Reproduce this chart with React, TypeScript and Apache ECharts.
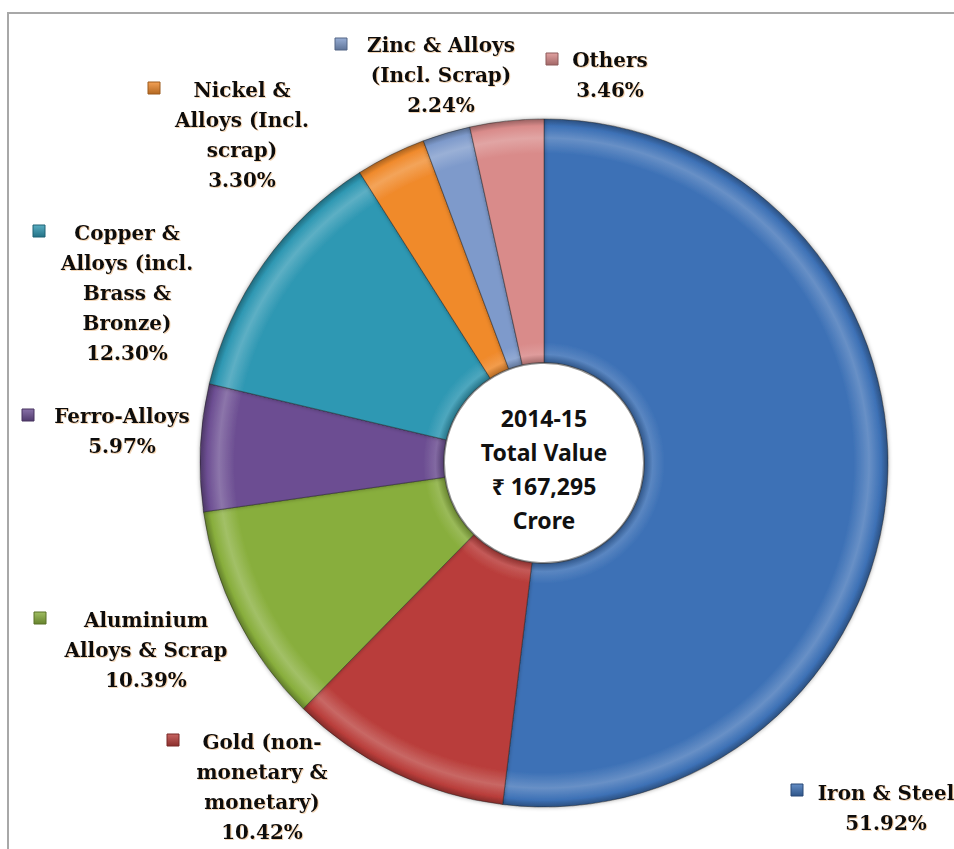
import React, { useEffect, useRef } from "react";
import * as echarts from "echarts";

const categories = [
  "Iron & Steel",
  "Gold (non-monetary & monetary)",
  "Aluminium Alloys & Scrap",
  "Ferro-Alloys",
  "Copper & Alloys (incl. Brass & Bronze)",
  "Nickel & Alloys (Incl. scrap)",
  "Zinc & Alloys (Incl. Scrap)",
  "Others",
];
const labelLines = [
  ["Iron & Steel"],
  ["Gold (non-", "monetary &", "monetary)"],
  ["Aluminium", "Alloys & Scrap"],
  ["Ferro-Alloys"],
  ["Copper &", "Alloys (incl.", "Brass &", "Bronze)"],
  ["Nickel &", "Alloys (Incl.", "scrap)"],
  ["Zinc & Alloys", "(Incl. Scrap)"],
  ["Others"],
];
const shares = [51.92, 10.42, 10.39, 5.97, 12.3, 3.3, 2.24, 3.46];
const centerLines = ["2014-15", "Total Value", "\u20B9 167,295", "Crore"];

// layout (not data)
const colors = ["#3d71b6", "#b93d3a", "#88ae3c", "#6c4e92", "#2f98b3", "#f08a2c", "#7e9acb", "#d98b8a"];
const labelPos = [
  [886, 793],
  [262, 742],
  [146, 620],
  [122, 416],
  [127, 233],
  [242, 90],
  [441, 45],
  [610, 60],
];
const squarePos = [
  [797, 790],
  [173, 740],
  [40, 618],
  [28, 415],
  [39, 231],
  [154, 88],
  [341, 44],
  [552, 59],
];
const CX = 544;
const CY = 463;
const R_OUT = 344;
const R_IN = 100;

function shade(hex: string, amt: number): string {
  const n = parseInt(hex.slice(1), 16);
  let r = (n >> 16) & 255, g = (n >> 8) & 255, b = n & 255;
  const f = (c: number) =>
    Math.round(amt >= 0 ? c + (255 - c) * amt : c * (1 + amt));
  r = f(r); g = f(g); b = f(b);
  return "rgb(" + r + "," + g + "," + b + ")";
}

export default function App() {
  const ref = useRef<HTMLDivElement>(null);
  useEffect(() => {
    if (!ref.current) return;
    const chart = echarts.init(ref.current, undefined, { renderer: "svg" });
    const inner = R_IN / R_OUT;
    const data = categories.map((name, i) => ({
      name,
      value: shares[i],
      itemStyle: {
        color: new echarts.graphic.RadialGradient(
          CX,
          CY,
          R_OUT,
          [
            { offset: inner, color: shade(colors[i], -0.25) },
            { offset: inner + 0.025, color: shade(colors[i], 0.15) },
            { offset: inner + 0.06, color: colors[i] },
            { offset: 0.9, color: colors[i] },
            { offset: 0.945, color: shade(colors[i], 0.22) },
            { offset: 0.98, color: colors[i] },
            { offset: 1, color: shade(colors[i], -0.3) },
          ],
          true
        ),
      },
    }));

    const graphics: any[] = [
      { type: "line", shape: { x1: 7, y1: 13, x2: 954, y2: 13 }, style: { stroke: "#a8a8a8", lineWidth: 2 }, z: 1 },
      { type: "line", shape: { x1: 8, y1: 13, x2: 8, y2: 849 }, style: { stroke: "#a8a8a8", lineWidth: 2 }, z: 1 },
      {
        type: "circle",
        shape: { cx: CX, cy: CY, r: R_IN },
        style: { fill: "#ffffff", stroke: "rgba(60,60,60,0.55)", lineWidth: 2 },
        z: 100,
      },
      {
        type: "text",
        x: CX,
        y: CY + 6,
        style: {
          text: centerLines.join("\n"),
          align: "center",
          verticalAlign: "middle",
          font: "bold 23px 'Noto Sans', 'DejaVu Sans', sans-serif",
          lineHeight: 34,
          fill: "#111111",
        },
        z: 101,
      },
    ];
    squarePos.forEach((p, i) => {
      graphics.push({
        type: "rect",
        shape: { x: p[0] - 6, y: p[1] - 6, width: 12, height: 12 },
        style: {
          fill: new echarts.graphic.LinearGradient(0, 0, 0, 1, [
            { offset: 0, color: shade(colors[i], 0.2) },
            { offset: 1, color: shade(colors[i], -0.25) },
          ]),
          stroke: shade(colors[i], -0.35),
          lineWidth: 1,
        },
        z: 100,
      });
    });

    chart.setOption({
      animation: false,
      backgroundColor: "#ffffff",
      graphic: graphics,
      series: [
        {
          type: "pie",
          center: [CX, CY],
          radius: [R_IN, R_OUT],
          startAngle: 90,
          clockwise: true,
          avoidLabelOverlap: false,
          data,
          itemStyle: {
            borderColor: "rgba(30,30,30,0.45)",
            borderWidth: 1,
            shadowBlur: 4,
            shadowColor: "rgba(0,0,0,0.35)",
          },
          emphasis: { disabled: true },
          labelLine: { show: false },
          label: {
            show: true,
            position: "outside",
            formatter: (p: any) =>
              labelLines[p.dataIndex].join("\n") + "\n" + p.value.toFixed(2) + "%",
            fontFamily: "'DejaVu Serif', 'Liberation Serif', serif",
            fontWeight: "bold",
            fontSize: 20,
            lineHeight: 30,
            color: "#111111",
            align: "center",
            textShadowColor: "rgba(220,140,50,0.35)",
            textShadowBlur: 1,
            textShadowOffsetX: 1,
            textShadowOffsetY: 1,
          },
          labelLayout: (params: any) => {
            const p = labelPos[params.dataIndex];
            return {
              x: p[0],
              y: p[1] - 15,
              align: "center",
              verticalAlign: "top",
              hideOverlap: false,
              moveOverlap: undefined,
            };
          },
        },
      ],
    });
    return () => chart.dispose();
  }, []);
  return (
    <div
      ref={ref}
      style={{ position: "absolute", left: 0, top: 0, width: 954, height: 849 }}
    />
  );
}
